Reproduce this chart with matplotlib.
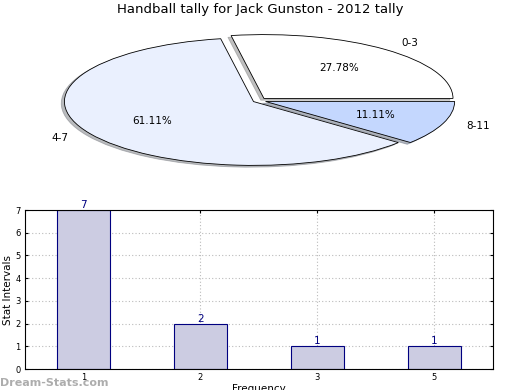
import matplotlib
matplotlib.use("Agg")
import matplotlib.pyplot as plt
import numpy as np

# pie data
pie_labels = ["0-3", "4-7", "8-11"]
pie_values = [5, 11, 2]
pie_colors = ["#ffffff", "#eaf0fe", "#c4d7fe"]

# bar data
bar_cats = ["1", "2", "3", "5"]
bar_values = [7, 2, 1, 1]

fig = plt.figure(figsize=(5.2, 3.9), dpi=100)
fig.text(0.5, 0.975, "Handball tally for Jack Gunston - 2012 tally",
         ha="center", va="center", fontsize=9.5)

# pie, stretched into an ellipse
ax1 = fig.add_axes([0.097, 0.562, 0.8, 0.36])
wedges, texts, autotexts = ax1.pie(
    pie_values, labels=pie_labels, colors=pie_colors, autopct="%.2f%%",
    startangle=0, counterclock=True, explode=[0.045, 0.03, 0.04],
    shadow={"ox": -0.012, "oy": -0.02, "shade": 0.5},
    labeldistance=1.13, pctdistance=0.62,
    wedgeprops={"edgecolor": "black", "linewidth": 0.6},
    textprops={"fontsize": 7.5})
ax1.set_aspect("auto")
ax1.set_xlim(-1.1, 1.1)
ax1.set_ylim(-1.1, 1.1)
ax1.axis("off")

# bar chart
ax2 = fig.add_axes([0.048, 0.0538, 0.9, 0.4077])
x = np.arange(len(bar_cats))
ax2.bar(x, bar_values, width=0.45, color="#ccccE2", edgecolor="#000080",
        linewidth=0.8, zorder=2)
for xi, v in zip(x, bar_values):
    ax2.text(xi, v, str(v), ha="center", va="bottom", color="#000080",
             fontsize=7.5, zorder=3)
ax2.set_xticks(x)
ax2.set_xticklabels(bar_cats)
ax2.set_xlim(-0.5, 3.5)
ax2.set_ylim(0, 7)
ax2.set_yticks(range(8))
ax2.tick_params(labelsize=6, direction="in", length=2, top=True, right=True,
                pad=3)
ax2.grid(True, linestyle=(0, (1, 2)), color="#bbbbbb", linewidth=0.8, zorder=0)
ax2.set_axisbelow(True)
ax2.set_ylabel("Stat Intervals", fontsize=7.5, labelpad=2)
ax2.set_xlabel("Frequency", fontsize=7.5, labelpad=1)

fig.text(0.0, 0.005, "Dream-Stats.com", fontsize=8, color="#999999",
         fontweight="bold", ha="left", va="bottom", alpha=0.8)

fig.savefig("out.png", dpi=100)
